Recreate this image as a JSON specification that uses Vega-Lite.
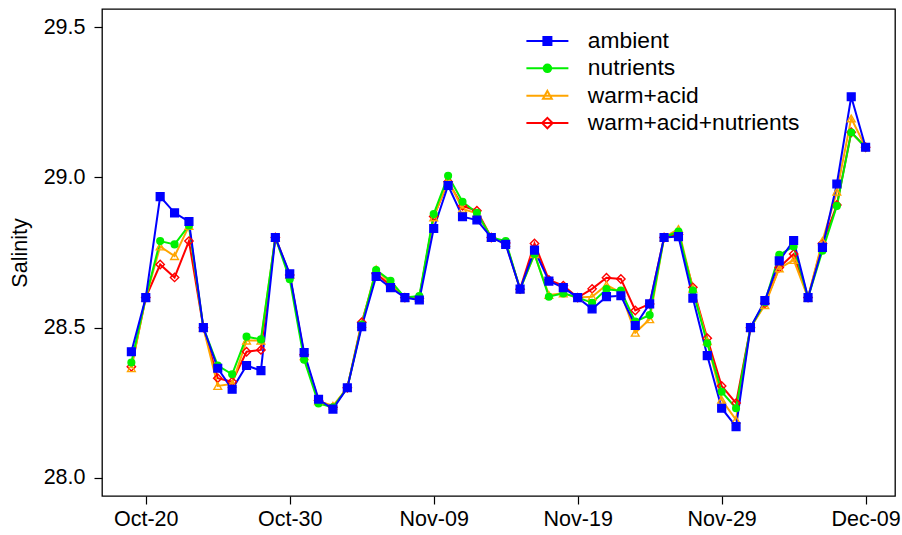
{
  "$schema": "https://vega.github.io/schema/vega-lite/v6.json",
  "width": 793,
  "height": 487,
  "autosize": "none",
  "padding": {"left": 102, "top": 9, "right": 7, "bottom": 39},
  "background": "white",
  "config": {
    "view": {"stroke": "black", "strokeWidth": 1.3},
    "axis": {"domain": false, "grid": false, "tickColor": "black", "tickSize": 8, "tickWidth": 1.2, "labelColor": "black", "labelFont": "Liberation Sans", "labelFontSize": 21.5, "titleFont": "Liberation Sans", "titleFontSize": 21.5, "titleFontWeight": "normal", "titleColor": "black", "labelFlush": false, "labelOverlap": false},
    "legend": {"labelFont": "Liberation Sans", "labelFontSize": 22.8, "labelColor": "black", "padding": 0, "symbolSize": 64, "symbolStrokeWidth": 2, "symbolOpacity": 1, "labelOffset": 29, "rowPadding": 3.4, "labelLimit": 500}
  },
  "data": {"values": [
    {"d":"2013-10-19","s":"warm+acid+nutrients","v":28.37},{"d":"2013-10-20","s":"warm+acid+nutrients","v":28.60},{"d":"2013-10-21","s":"warm+acid+nutrients","v":28.71},{"d":"2013-10-22","s":"warm+acid+nutrients","v":28.667},{"d":"2013-10-23","s":"warm+acid+nutrients","v":28.788},{"d":"2013-10-24","s":"warm+acid+nutrients","v":28.50},{"d":"2013-10-25","s":"warm+acid+nutrients","v":28.332},{"d":"2013-10-26","s":"warm+acid+nutrients","v":28.32},{"d":"2013-10-27","s":"warm+acid+nutrients","v":28.42},{"d":"2013-10-28","s":"warm+acid+nutrients","v":28.426},{"d":"2013-10-29","s":"warm+acid+nutrients","v":28.80},{"d":"2013-10-30","s":"warm+acid+nutrients","v":28.675},{"d":"2013-10-31","s":"warm+acid+nutrients","v":28.41},{"d":"2013-11-01","s":"warm+acid+nutrients","v":28.258},{"d":"2013-11-02","s":"warm+acid+nutrients","v":28.235},{"d":"2013-11-03","s":"warm+acid+nutrients","v":28.30},{"d":"2013-11-04","s":"warm+acid+nutrients","v":28.518},{"d":"2013-11-05","s":"warm+acid+nutrients","v":28.68},{"d":"2013-11-06","s":"warm+acid+nutrients","v":28.64},{"d":"2013-11-07","s":"warm+acid+nutrients","v":28.60},{"d":"2013-11-08","s":"warm+acid+nutrients","v":28.598},{"d":"2013-11-09","s":"warm+acid+nutrients","v":28.87},{"d":"2013-11-10","s":"warm+acid+nutrients","v":28.985},{"d":"2013-11-11","s":"warm+acid+nutrients","v":28.905},{"d":"2013-11-12","s":"warm+acid+nutrients","v":28.889},{"d":"2013-11-13","s":"warm+acid+nutrients","v":28.80},{"d":"2013-11-14","s":"warm+acid+nutrients","v":28.782},{"d":"2013-11-15","s":"warm+acid+nutrients","v":28.628},{"d":"2013-11-16","s":"warm+acid+nutrients","v":28.78},{"d":"2013-11-17","s":"warm+acid+nutrients","v":28.659},{"d":"2013-11-18","s":"warm+acid+nutrients","v":28.64},{"d":"2013-11-19","s":"warm+acid+nutrients","v":28.60},{"d":"2013-11-20","s":"warm+acid+nutrients","v":28.629},{"d":"2013-11-21","s":"warm+acid+nutrients","v":28.666},{"d":"2013-11-22","s":"warm+acid+nutrients","v":28.662},{"d":"2013-11-23","s":"warm+acid+nutrients","v":28.557},{"d":"2013-11-24","s":"warm+acid+nutrients","v":28.579},{"d":"2013-11-25","s":"warm+acid+nutrients","v":28.80},{"d":"2013-11-26","s":"warm+acid+nutrients","v":28.81},{"d":"2013-11-27","s":"warm+acid+nutrients","v":28.634},{"d":"2013-11-28","s":"warm+acid+nutrients","v":28.465},{"d":"2013-11-29","s":"warm+acid+nutrients","v":28.306},{"d":"2013-11-30","s":"warm+acid+nutrients","v":28.249},{"d":"2013-12-01","s":"warm+acid+nutrients","v":28.50},{"d":"2013-12-02","s":"warm+acid+nutrients","v":28.58},{"d":"2013-12-03","s":"warm+acid+nutrients","v":28.70},{"d":"2013-12-04","s":"warm+acid+nutrients","v":28.745},{"d":"2013-12-05","s":"warm+acid+nutrients","v":28.60},{"d":"2013-12-06","s":"warm+acid+nutrients","v":28.78},{"d":"2013-12-07","s":"warm+acid+nutrients","v":28.908},{"d":"2013-12-08","s":"warm+acid+nutrients","v":29.15},{"d":"2013-12-09","s":"warm+acid+nutrients","v":29.10},
    {"d":"2013-10-19","s":"warm+acid","v":28.365},{"d":"2013-10-20","s":"warm+acid","v":28.60},{"d":"2013-10-21","s":"warm+acid","v":28.77},{"d":"2013-10-22","s":"warm+acid","v":28.738},{"d":"2013-10-23","s":"warm+acid","v":28.838},{"d":"2013-10-24","s":"warm+acid","v":28.50},{"d":"2013-10-25","s":"warm+acid","v":28.306},{"d":"2013-10-26","s":"warm+acid","v":28.313},{"d":"2013-10-27","s":"warm+acid","v":28.457},{"d":"2013-10-28","s":"warm+acid","v":28.457},{"d":"2013-10-29","s":"warm+acid","v":28.80},{"d":"2013-10-30","s":"warm+acid","v":28.675},{"d":"2013-10-31","s":"warm+acid","v":28.405},{"d":"2013-11-01","s":"warm+acid","v":28.255},{"d":"2013-11-02","s":"warm+acid","v":28.24},{"d":"2013-11-03","s":"warm+acid","v":28.30},{"d":"2013-11-04","s":"warm+acid","v":28.512},{"d":"2013-11-05","s":"warm+acid","v":28.694},{"d":"2013-11-06","s":"warm+acid","v":28.648},{"d":"2013-11-07","s":"warm+acid","v":28.60},{"d":"2013-11-08","s":"warm+acid","v":28.60},{"d":"2013-11-09","s":"warm+acid","v":28.867},{"d":"2013-11-10","s":"warm+acid","v":28.99},{"d":"2013-11-11","s":"warm+acid","v":28.895},{"d":"2013-11-12","s":"warm+acid","v":28.88},{"d":"2013-11-13","s":"warm+acid","v":28.80},{"d":"2013-11-14","s":"warm+acid","v":28.782},{"d":"2013-11-15","s":"warm+acid","v":28.628},{"d":"2013-11-16","s":"warm+acid","v":28.744},{"d":"2013-11-17","s":"warm+acid","v":28.609},{"d":"2013-11-18","s":"warm+acid","v":28.614},{"d":"2013-11-19","s":"warm+acid","v":28.60},{"d":"2013-11-20","s":"warm+acid","v":28.603},{"d":"2013-11-21","s":"warm+acid","v":28.642},{"d":"2013-11-22","s":"warm+acid","v":28.616},{"d":"2013-11-23","s":"warm+acid","v":28.483},{"d":"2013-11-24","s":"warm+acid","v":28.528},{"d":"2013-11-25","s":"warm+acid","v":28.80},{"d":"2013-11-26","s":"warm+acid","v":28.828},{"d":"2013-11-27","s":"warm+acid","v":28.63},{"d":"2013-11-28","s":"warm+acid","v":28.455},{"d":"2013-11-29","s":"warm+acid","v":28.26},{"d":"2013-11-30","s":"warm+acid","v":28.193},{"d":"2013-12-01","s":"warm+acid","v":28.50},{"d":"2013-12-02","s":"warm+acid","v":28.575},{"d":"2013-12-03","s":"warm+acid","v":28.697},{"d":"2013-12-04","s":"warm+acid","v":28.725},{"d":"2013-12-05","s":"warm+acid","v":28.60},{"d":"2013-12-06","s":"warm+acid","v":28.788},{"d":"2013-12-07","s":"warm+acid","v":28.952},{"d":"2013-12-08","s":"warm+acid","v":29.196},{"d":"2013-12-09","s":"warm+acid","v":29.10},
    {"d":"2013-10-19","s":"nutrients","v":28.384},{"d":"2013-10-20","s":"nutrients","v":28.60},{"d":"2013-10-21","s":"nutrients","v":28.788},{"d":"2013-10-22","s":"nutrients","v":28.777},{"d":"2013-10-23","s":"nutrients","v":28.84},{"d":"2013-10-24","s":"nutrients","v":28.50},{"d":"2013-10-25","s":"nutrients","v":28.374},{"d":"2013-10-26","s":"nutrients","v":28.345},{"d":"2013-10-27","s":"nutrients","v":28.47},{"d":"2013-10-28","s":"nutrients","v":28.461},{"d":"2013-10-29","s":"nutrients","v":28.80},{"d":"2013-10-30","s":"nutrients","v":28.661},{"d":"2013-10-31","s":"nutrients","v":28.393},{"d":"2013-11-01","s":"nutrients","v":28.248},{"d":"2013-11-02","s":"nutrients","v":28.235},{"d":"2013-11-03","s":"nutrients","v":28.30},{"d":"2013-11-04","s":"nutrients","v":28.51},{"d":"2013-11-05","s":"nutrients","v":28.692},{"d":"2013-11-06","s":"nutrients","v":28.656},{"d":"2013-11-07","s":"nutrients","v":28.60},{"d":"2013-11-08","s":"nutrients","v":28.605},{"d":"2013-11-09","s":"nutrients","v":28.878},{"d":"2013-11-10","s":"nutrients","v":29.005},{"d":"2013-11-11","s":"nutrients","v":28.919},{"d":"2013-11-12","s":"nutrients","v":28.882},{"d":"2013-11-13","s":"nutrients","v":28.80},{"d":"2013-11-14","s":"nutrients","v":28.788},{"d":"2013-11-15","s":"nutrients","v":28.628},{"d":"2013-11-16","s":"nutrients","v":28.745},{"d":"2013-11-17","s":"nutrients","v":28.603},{"d":"2013-11-18","s":"nutrients","v":28.614},{"d":"2013-11-19","s":"nutrients","v":28.60},{"d":"2013-11-20","s":"nutrients","v":28.583},{"d":"2013-11-21","s":"nutrients","v":28.628},{"d":"2013-11-22","s":"nutrients","v":28.623},{"d":"2013-11-23","s":"nutrients","v":28.52},{"d":"2013-11-24","s":"nutrients","v":28.542},{"d":"2013-11-25","s":"nutrients","v":28.80},{"d":"2013-11-26","s":"nutrients","v":28.82},{"d":"2013-11-27","s":"nutrients","v":28.623},{"d":"2013-11-28","s":"nutrients","v":28.448},{"d":"2013-11-29","s":"nutrients","v":28.287},{"d":"2013-11-30","s":"nutrients","v":28.232},{"d":"2013-12-01","s":"nutrients","v":28.50},{"d":"2013-12-02","s":"nutrients","v":28.585},{"d":"2013-12-03","s":"nutrients","v":28.742},{"d":"2013-12-04","s":"nutrients","v":28.77},{"d":"2013-12-05","s":"nutrients","v":28.60},{"d":"2013-12-06","s":"nutrients","v":28.756},{"d":"2013-12-07","s":"nutrients","v":28.905},{"d":"2013-12-08","s":"nutrients","v":29.149},{"d":"2013-12-09","s":"nutrients","v":29.10},
    {"d":"2013-10-19","s":"ambient","v":28.42},{"d":"2013-10-20","s":"ambient","v":28.60},{"d":"2013-10-21","s":"ambient","v":28.936},{"d":"2013-10-22","s":"ambient","v":28.882},{"d":"2013-10-23","s":"ambient","v":28.853},{"d":"2013-10-24","s":"ambient","v":28.50},{"d":"2013-10-25","s":"ambient","v":28.365},{"d":"2013-10-26","s":"ambient","v":28.295},{"d":"2013-10-27","s":"ambient","v":28.374},{"d":"2013-10-28","s":"ambient","v":28.357},{"d":"2013-10-29","s":"ambient","v":28.80},{"d":"2013-10-30","s":"ambient","v":28.679},{"d":"2013-10-31","s":"ambient","v":28.417},{"d":"2013-11-01","s":"ambient","v":28.262},{"d":"2013-11-02","s":"ambient","v":28.229},{"d":"2013-11-03","s":"ambient","v":28.30},{"d":"2013-11-04","s":"ambient","v":28.503},{"d":"2013-11-05","s":"ambient","v":28.67},{"d":"2013-11-06","s":"ambient","v":28.633},{"d":"2013-11-07","s":"ambient","v":28.60},{"d":"2013-11-08","s":"ambient","v":28.592},{"d":"2013-11-09","s":"ambient","v":28.83},{"d":"2013-11-10","s":"ambient","v":28.973},{"d":"2013-11-11","s":"ambient","v":28.869},{"d":"2013-11-12","s":"ambient","v":28.858},{"d":"2013-11-13","s":"ambient","v":28.80},{"d":"2013-11-14","s":"ambient","v":28.777},{"d":"2013-11-15","s":"ambient","v":28.628},{"d":"2013-11-16","s":"ambient","v":28.758},{"d":"2013-11-17","s":"ambient","v":28.655},{"d":"2013-11-18","s":"ambient","v":28.633},{"d":"2013-11-19","s":"ambient","v":28.60},{"d":"2013-11-20","s":"ambient","v":28.562},{"d":"2013-11-21","s":"ambient","v":28.603},{"d":"2013-11-22","s":"ambient","v":28.606},{"d":"2013-11-23","s":"ambient","v":28.507},{"d":"2013-11-24","s":"ambient","v":28.579},{"d":"2013-11-25","s":"ambient","v":28.80},{"d":"2013-11-26","s":"ambient","v":28.803},{"d":"2013-11-27","s":"ambient","v":28.598},{"d":"2013-11-28","s":"ambient","v":28.407},{"d":"2013-11-29","s":"ambient","v":28.232},{"d":"2013-11-30","s":"ambient","v":28.171},{"d":"2013-12-01","s":"ambient","v":28.50},{"d":"2013-12-02","s":"ambient","v":28.59},{"d":"2013-12-03","s":"ambient","v":28.722},{"d":"2013-12-04","s":"ambient","v":28.79},{"d":"2013-12-05","s":"ambient","v":28.60},{"d":"2013-12-06","s":"ambient","v":28.767},{"d":"2013-12-07","s":"ambient","v":28.978},{"d":"2013-12-08","s":"ambient","v":29.268},{"d":"2013-12-09","s":"ambient","v":29.10}
  ]},
  "encoding": {
    "x": {"field": "d", "type": "temporal",
      "scale": {"type": "utc", "domain": [{"year": 2013, "month": 10, "date": 16, "hours": 23, "minutes": 2, "seconds": 24, "utc": true}, {"year": 2013, "month": 12, "date": 11, "hours": 0, "minutes": 57, "seconds": 36, "utc": true}]},
      "axis": {"title": null, "format": "%b-%d", "labelPadding": 4,
        "values": [{"year": 2013, "month": 10, "date": 20, "utc": true}, {"year": 2013, "month": 10, "date": 30, "utc": true}, {"year": 2013, "month": 11, "date": 9, "utc": true}, {"year": 2013, "month": 11, "date": 19, "utc": true}, {"year": 2013, "month": 11, "date": 29, "utc": true}, {"year": 2013, "month": 12, "date": 9, "utc": true}]}},
    "y": {"field": "v", "type": "quantitative",
      "scale": {"domain": [27.94, 29.56], "nice": false, "zero": false},
      "axis": {"title": "Salinity", "values": [28, 28.5, 29, 29.5], "format": ".1f", "labelPadding": 9, "titlePadding": 12}}
  },
  "layer": [
    {
      "transform": [{"filter": {"field": "v", "lt": 0}}],
      "mark": {"type": "point", "opacity": 1, "strokeWidth": 2},
      "encoding": {
        "stroke": {"field": "s", "type": "nominal",
          "scale": {"domain": ["ambient", "nutrients", "warm+acid", "warm+acid+nutrients"], "range": ["#0000FF", "#00F000", "#FFA500", "#FF0000"]},
          "legend": {"title": null, "orient": "none", "legendX": 434, "legendY": 20.5}},
        "fill": {"field": "s", "type": "nominal", "legend": {"title": null, "orient": "none", "legendX": 434, "legendY": 20.5},
          "scale": {"domain": ["ambient", "nutrients", "warm+acid", "warm+acid+nutrients"], "range": ["#0000FF", "#00F000", "transparent", "transparent"]}},
        "shape": {"field": "s", "type": "nominal", "legend": {"title": null, "orient": "none", "legendX": 434, "legendY": 20.5},
          "scale": {"domain": ["ambient", "nutrients", "warm+acid", "warm+acid+nutrients"], "range": ["M-5.25,0H5.25M-1,-1H1V1H-1Z", "M-5.25,0H5.25M-0.95,0A0.95,0.95,0,1,0,0.95,0A0.95,0.95,0,1,0,-0.95,0Z", "M-5.25,0H5.25M0,-1.2L1.1,0.75L-1.1,0.75Z", "M-5.25,0H5.25M0,-1.3L1.3,0L0,1.3L-1.3,0Z"]}}
      }
    },
    {
      "mark": {"type": "line", "strokeWidth": 2},
      "encoding": {
        "stroke": {"field": "s", "type": "nominal"}
      }
    },
    {
      "transform": [{"filter": {"field": "s", "equal": "warm+acid+nutrients"}}],
      "mark": {"type": "point", "shape": "diamond", "size": 70, "stroke": "#FF0000", "fill": "transparent", "strokeWidth": 1.4, "opacity": 1}
    },
    {
      "transform": [{"filter": {"field": "s", "equal": "warm+acid"}}],
      "mark": {"type": "point", "shape": "triangle-up", "size": 60, "stroke": "#FFA500", "fill": "transparent", "strokeWidth": 1.4, "opacity": 1}
    },
    {
      "transform": [{"filter": {"field": "s", "equal": "nutrients"}}],
      "mark": {"type": "point", "shape": "circle", "size": 45, "stroke": "#00F000", "fill": "#00F000", "strokeWidth": 1.4, "opacity": 1}
    },
    {
      "transform": [{"filter": {"field": "s", "equal": "ambient"}}],
      "mark": {"type": "point", "shape": "square", "size": 60, "stroke": "#0000FF", "fill": "#0000FF", "strokeWidth": 1.4, "opacity": 1}
    }
  ]
}
